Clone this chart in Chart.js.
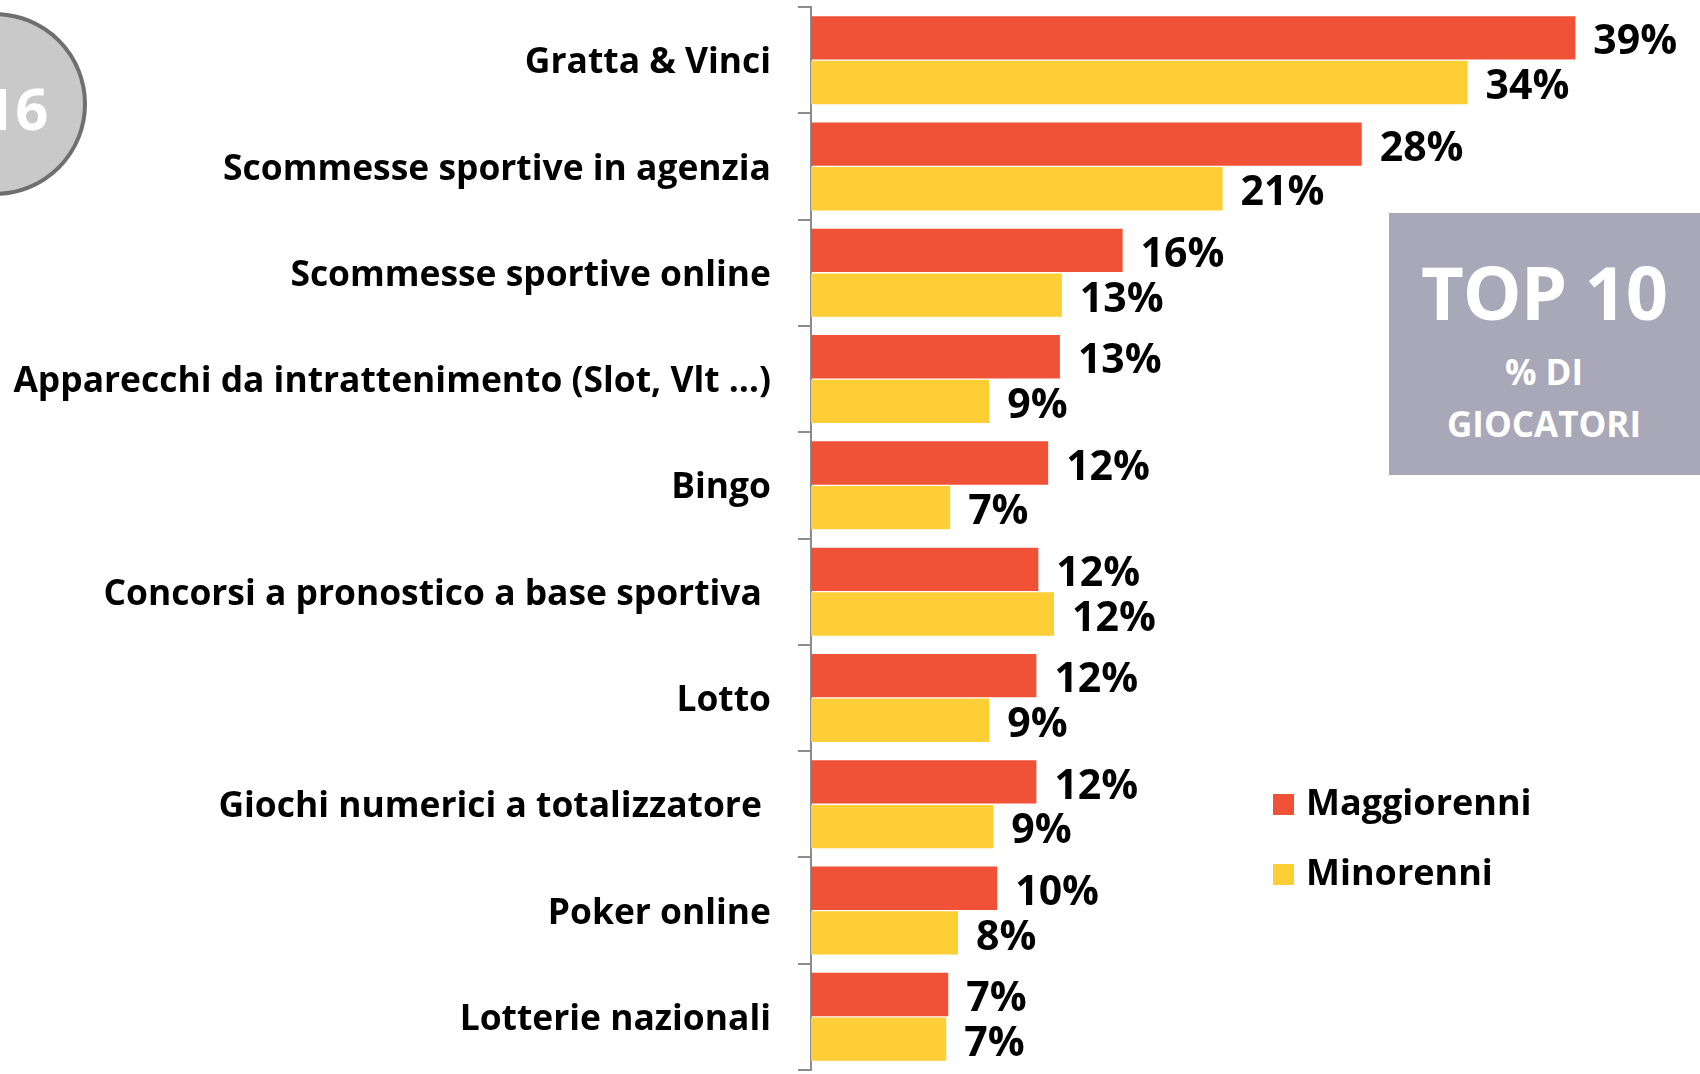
<!DOCTYPE html>
<html>
<head>
<meta charset="utf-8">
<script src="https://cdn.jsdelivr.net/npm/chart.js@4.4.1/dist/chart.umd.min.js"></script>
<style>
  html, body { margin: 0; padding: 0; background: #fff; overflow: hidden; }
  #wrap { position: relative; width: 1700px; height: 1074px; }
  #chart { position: absolute; left: 0; top: 0; }
  #badge {
    position: absolute; left: -97px; top: 12px; width: 184px; height: 184px;
    border-radius: 50%; background: #C9C9C9; border: 4px solid #6F6F6F;
    box-sizing: border-box; color: #fff; font: bold 58px "Open Sans", sans-serif;
    display: flex; align-items: center; justify-content: center; line-height: 1;
    padding-right: 26px; padding-top: 8px;
  }
  #top10 {
    position: absolute; left: 1389px; top: 213px; width: 330px; height: 262px;
    background: #A9A8B8; color: #fff; font-family: "Open Sans", sans-serif; font-weight: bold;
    box-sizing: border-box; padding-right: 20px; text-align: center;
  }
  #top10 .big { font-size: 74px; line-height: 1; margin-top: 42px; letter-spacing: -1px; }
  #top10 .small { font-size: 35px; line-height: 52px; margin-top: 17px; }
</style>
</head>
<body>
<div id="wrap">
  <canvas id="chart" width="1700" height="1074"></canvas>
  <div id="badge">2016</div>
  <div id="top10"><div class="big">TOP 10</div><div class="small">% DI<br>GIOCATORI</div></div>
</div>
<script>
const categories = [
  "Gratta & Vinci",
  "Scommesse sportive in agenzia",
  "Scommesse sportive online",
  "Apparecchi da intrattenimento (Slot, Vlt \u2026)",
  "Bingo",
  "Concorsi a pronostico a base sportiva ",
  "Lotto",
  "Giochi numerici a totalizzatore ",
  "Poker online",
  "Lotterie nazionali"
];
const seriesNames = ["Maggiorenni", "Minorenni"];
const maggiorenni = [39.0, 28.1, 15.9, 12.7, 12.1, 11.6, 11.5, 11.5, 9.5, 7.0];
const minorenni   = [33.5, 21.0, 12.8, 9.1, 7.1, 12.4, 9.1, 9.3, 7.5, 6.9];
const colors = ["#F05238", "#FECE37"];

const valueLabels = {
  id: 'valueLabels',
  afterDatasetsDraw(chart) {
    const ctx = chart.ctx;
    ctx.save();
    ctx.font = 'bold 41px "Open Sans", sans-serif';
    ctx.fillStyle = '#000';
    ctx.textAlign = 'left';
    ctx.textBaseline = 'middle';
    chart.data.datasets.forEach((ds, di) => {
      chart.getDatasetMeta(di).data.forEach((bar, i) => {
        ctx.fillText(Math.round(ds.data[i]) + '%', bar.x + 18, bar.y + 5);
      });
    });
    ctx.restore();
  }
};

const customLegend = {
  id: 'customLegend',
  afterDraw(chart) {
    const ctx = chart.ctx;
    ctx.save();
    ctx.font = 'bold 36px "Open Sans", sans-serif';
    ctx.textBaseline = 'middle';
    ctx.textAlign = 'left';
    chart.data.datasets.forEach((ds, i) => {
      const y = 805 + i * 70;
      ctx.fillStyle = ds.backgroundColor;
      ctx.fillRect(1273, y - 11, 21, 21);
      ctx.fillStyle = '#000';
      ctx.fillText(ds.label, 1306, y);
    });
    ctx.restore();
  }
};

function build() {
  new Chart(document.getElementById('chart'), {
    type: 'bar',
    data: {
      labels: categories,
      datasets: [
        { label: seriesNames[0], data: maggiorenni, backgroundColor: colors[0] },
        { label: seriesNames[1], data: minorenni, backgroundColor: colors[1] }
      ]
    },
    options: {
      indexAxis: 'y',
      responsive: false,
      animation: false,
      layout: { padding: { top: 7, bottom: 4, left: 0, right: 0 } },
      datasets: { bar: { categoryPercentage: 0.84, barPercentage: 0.97 } },
      plugins: { legend: { display: false }, tooltip: { enabled: false } },
      scales: {
        x: { display: false, min: 0, max: 45.36 },
        y: {
          afterFit(scale) { scale.width = 811; scale.paddingTop = 0; scale.paddingBottom = 0; },
          grid: { offset: true, drawOnChartArea: false, drawTicks: true, tickLength: 13, color: '#8C8C8C', lineWidth: 2 },
          border: { display: true, color: '#8C8C8C', width: 2 },
          ticks: { color: '#000', padding: 27, labelOffset: 3, font: { family: '"Open Sans", sans-serif', weight: 'bold', size: 35.4 } }
        }
      }
    },
    plugins: [valueLabels, customLegend]
  });
}
Promise.all([
  document.fonts.load('bold 35px "Open Sans"'),
  document.fonts.load('bold 41px "Open Sans"')
]).then(build, build);
</script>
</body>
</html>
